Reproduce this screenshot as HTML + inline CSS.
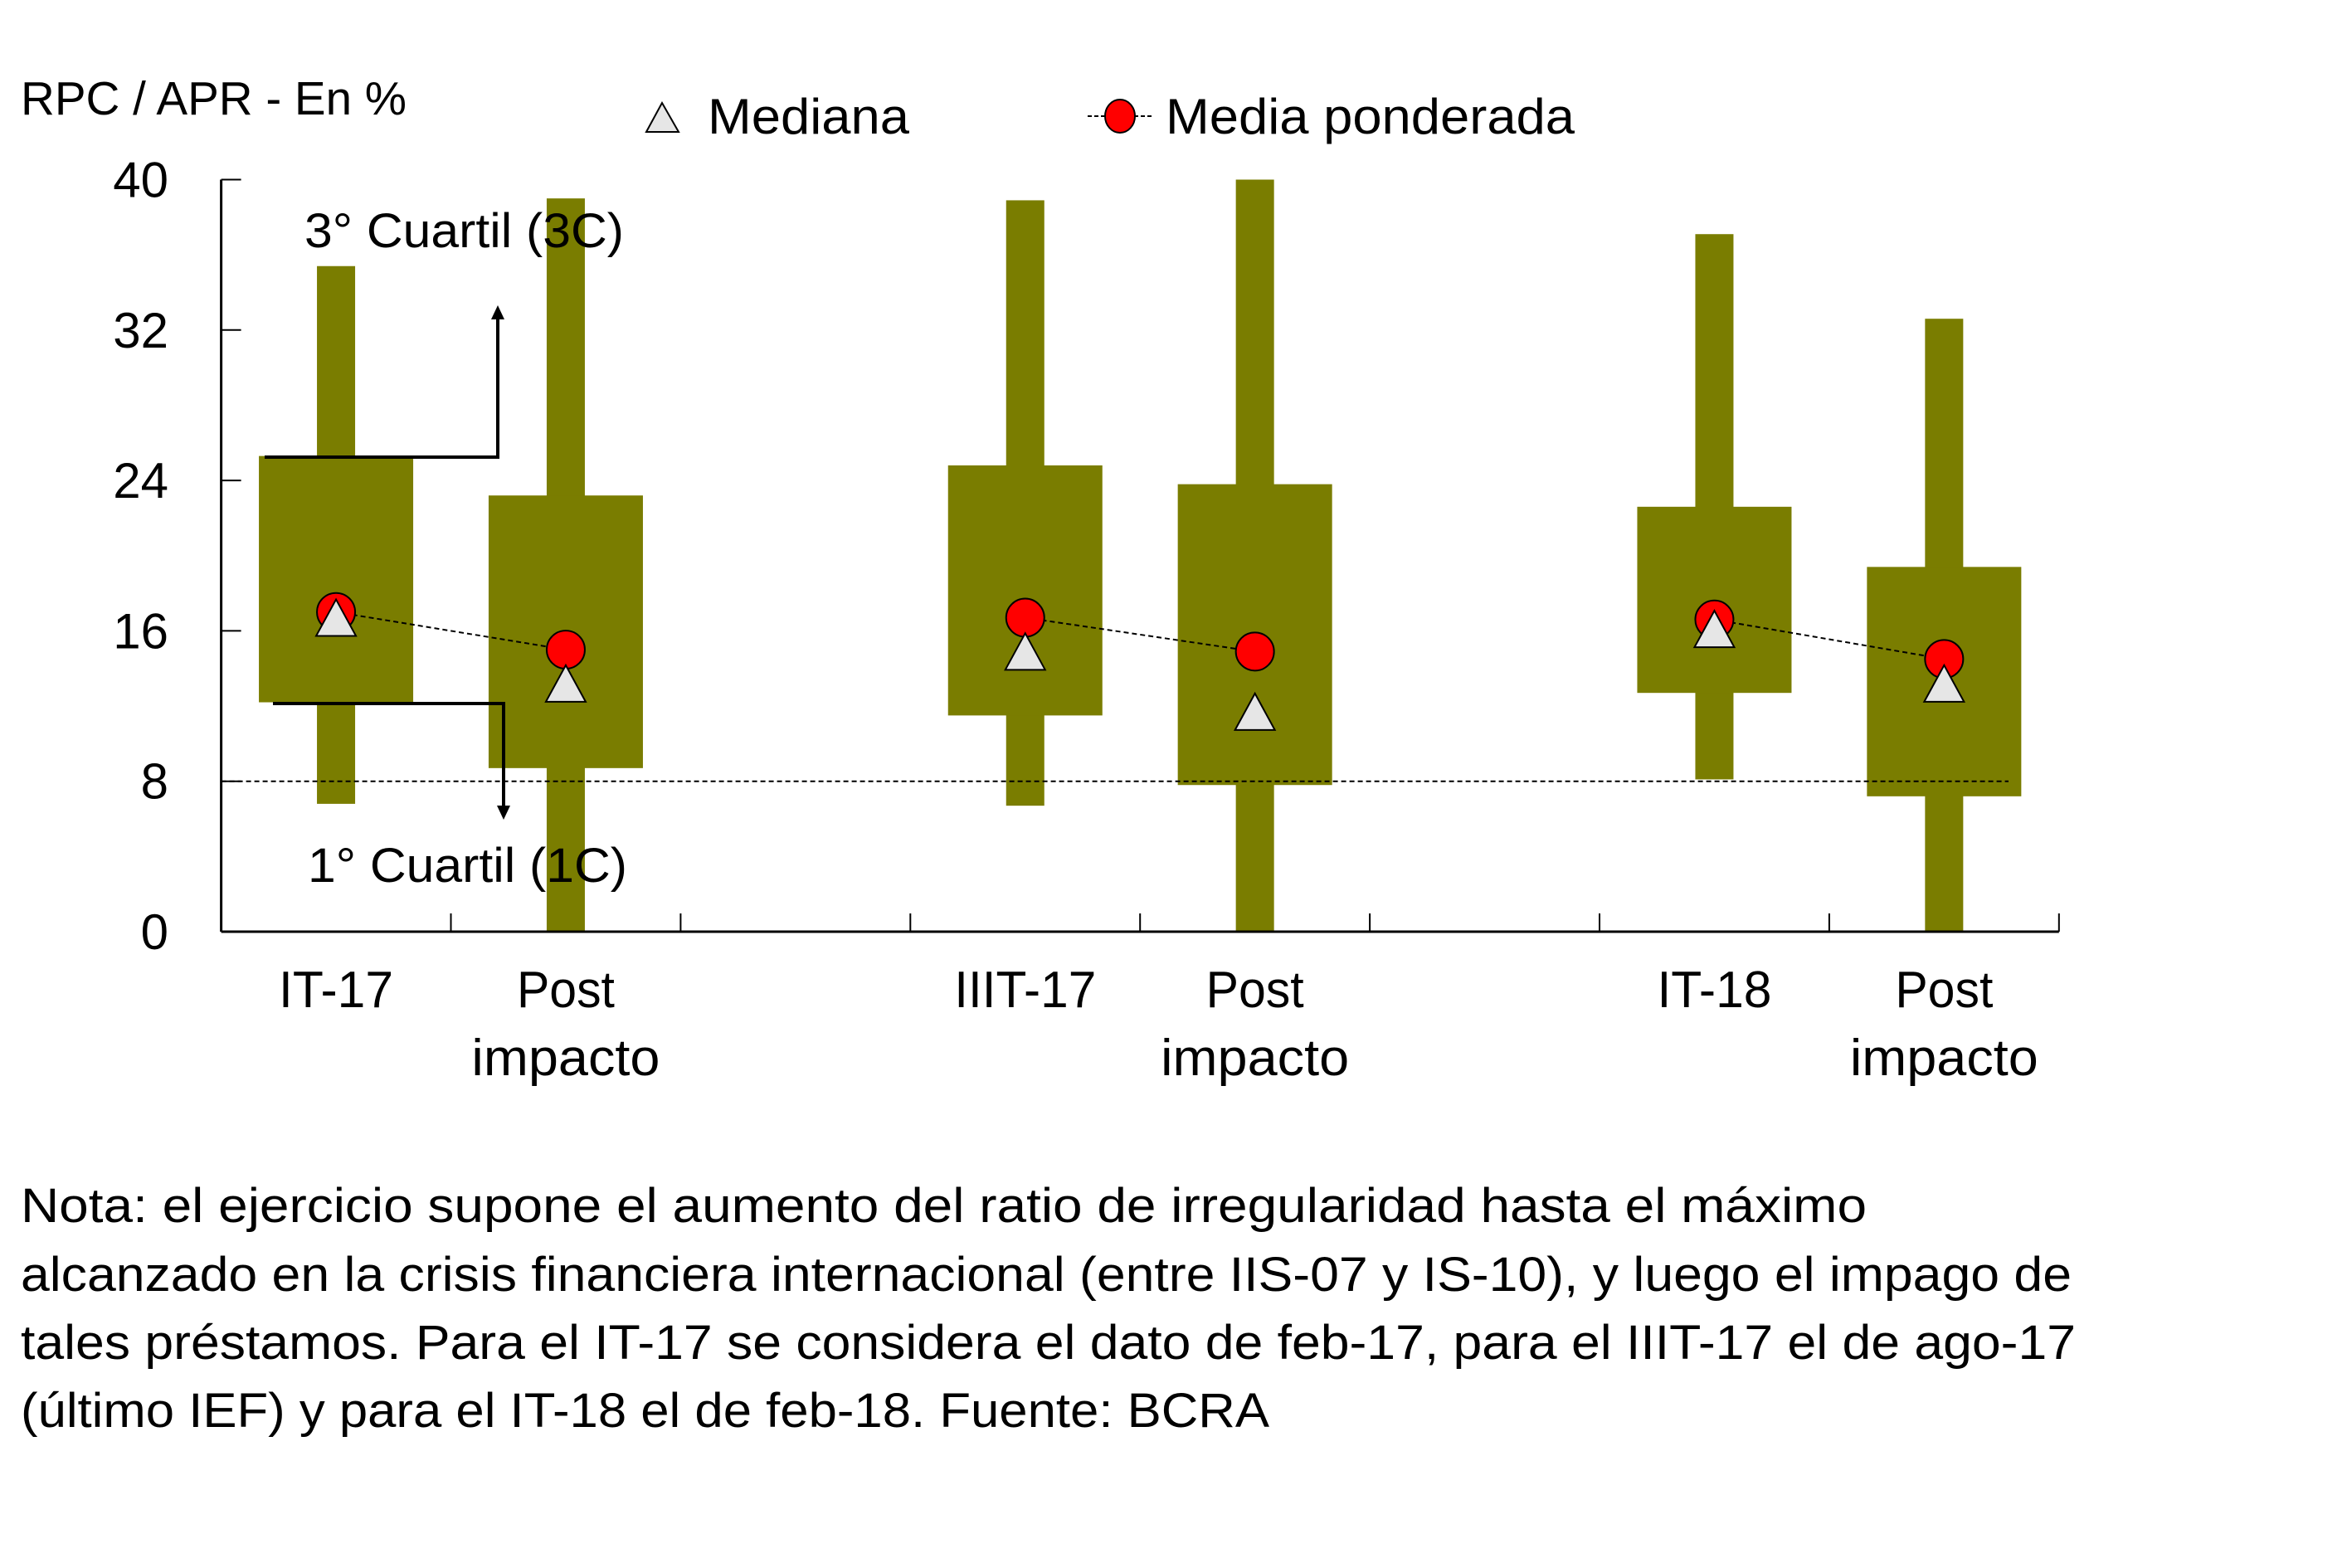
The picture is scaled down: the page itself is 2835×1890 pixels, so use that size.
<!DOCTYPE html>
<html><head><meta charset="utf-8"><style>
html,body{margin:0;padding:0;background:#fff}
svg{display:block}
text{font-family:"Liberation Sans",sans-serif;fill:#000}
</style></head><body>
<svg id="chart" width="2835" height="1890" viewBox="0 0 2835 1890" xmlns="http://www.w3.org/2000/svg">
<g id="plot"></g>
<text x="25" y="138" font-size="57" textLength="465" lengthAdjust="spacingAndGlyphs">RPC / APR - En %</text>
<g>
  <polygon points="779,159 798,124 818,159" fill="#e6e6e6" stroke="#000" stroke-width="2"/>
  <text x="853" y="161" font-size="60" textLength="243" lengthAdjust="spacingAndGlyphs">Mediana</text>
  <line x1="1311" y1="140" x2="1390" y2="140" stroke="#000" stroke-width="2" stroke-dasharray="5,3"/>
  <ellipse cx="1350" cy="140" rx="18" ry="20" fill="#ff0000" stroke="#000" stroke-width="2"/>
  <text x="1405" y="161" font-size="60" textLength="493" lengthAdjust="spacingAndGlyphs">Media ponderada</text>
</g>
<g>
  <text x="367" y="298" font-size="58" textLength="385" lengthAdjust="spacingAndGlyphs">3° Cuartil (3C)</text>
  <polyline points="319,551 600,551 600,380" fill="none" stroke="#000" stroke-width="4"/>
  <polygon points="592,385 600,368 608,385" fill="#000"/>
  <polyline points="329,848 607,848 607,976" fill="none" stroke="#000" stroke-width="4"/>
  <polygon points="599,971 607,988 615,971" fill="#000"/>
  <text x="371" y="1063" font-size="58" textLength="385" lengthAdjust="spacingAndGlyphs">1° Cuartil (1C)</text>
</g>
<g font-size="58">
  <text x="25" y="1473" textLength="2225" lengthAdjust="spacingAndGlyphs">Nota: el ejercicio supone el aumento del ratio de irregularidad hasta el máximo</text>
  <text x="25" y="1556" textLength="2472" lengthAdjust="spacingAndGlyphs">alcanzado en la crisis financiera internacional (entre IIS-07 y IS-10), y luego el impago de</text>
  <text x="25" y="1638" textLength="2477" lengthAdjust="spacingAndGlyphs">tales préstamos. Para el IT-17 se considera el dato de feb-17, para el IIIT-17 el de ago-17</text>
  <text x="25" y="1720" textLength="1505" lengthAdjust="spacingAndGlyphs">(último IEF) y para el IT-18 el de feb-18. Fuente: BCRA</text>
</g>
</svg>
<script>
const categories = ["IT-17", "Post impacto", "", "IIIT-17", "Post impacto", "", "IT-18", "Post impacto"];
const whiskerHigh = [35.4, 39.0, null, 38.9, 40.0, null, 37.1, 32.6];
const q3 = [25.3, 23.2, null, 24.8, 23.8, null, 22.6, 19.4];
const q1 = [12.2, 8.7, null, 11.5, 7.8, null, 12.7, 7.2];
const whiskerLow = [6.8, 0, null, 6.7, 0, null, 8.1, 0];
const means = [17.0, 15.0, null, 16.7, 14.9, null, 16.6, 14.5];
const medians = [16.7, 13.2, null, 14.9, 11.7, null, 16.1, 13.2];
const yTicks = [0, 8, 16, 24, 32, 40];
const refLine = 8;

const NS = "http://www.w3.org/2000/svg";
const X0 = 266.6, SLOT = 276.9, Y0 = 1123, Y40 = 216.5, YMAX = 40;
function yS(v){ return Y0 - (Y0 - Y40) * v / YMAX; }
function xC(i){ return X0 + SLOT * (i + 0.5); }
const plot = document.getElementById("plot");
function mk(tag, attrs){ const e = document.createElementNS(NS, tag); for (const k in attrs) e.setAttribute(k, attrs[k]); plot.appendChild(e); return e; }
const OLIVE = "#7a7d00";
const labelWidths = {"IT-17": 138, "IIIT-17": 171, "IT-18": 138, "Post": 118, "impacto": 227};

categories.forEach((c, i) => {
  if (whiskerHigh[i] === null) return;
  const cx = xC(i);
  const w = mk("rect", {x: cx - 23, y: yS(whiskerHigh[i]), width: 46, height: yS(whiskerLow[i]) - yS(whiskerHigh[i]), fill: OLIVE});
  
  
  const b = mk("rect", {x: cx - 93, y: yS(q3[i]), width: 186, height: yS(q1[i]) - yS(q3[i]), fill: OLIVE});
  
  
});
let rl = mk("line", {x1: X0, y1: yS(refLine), x2: 2421, y2: yS(refLine), stroke: "#000", "stroke-width": 2, "stroke-dasharray": "6,4"});



for (let i = 0; i < categories.length - 1; i++) {
  if (means[i] !== null && means[i+1] !== null) {
    const l = mk("line", {x1: xC(i), y1: yS(means[i]), x2: xC(i+1), y2: yS(means[i+1]), stroke: "#000", "stroke-width": 2, "stroke-dasharray": "6,4"});
    
    
  }
}
categories.forEach((c, i) => {
  if (means[i] === null) return;
  const cx = xC(i);
  const m = mk("ellipse", {cx: cx, cy: yS(means[i]), rx: 23, ry: 23, fill: "#ff0000", stroke: "#000", "stroke-width": 2});
  
  
  const my = yS(medians[i]);
  const t = mk("polygon", {points: (cx-24)+","+(my+22)+" "+cx+","+(my-22)+" "+(cx+24)+","+(my+22), fill: "#e6e6e6", stroke: "#000", "stroke-width": 2});
  
  
});

const ya = mk("line", {x1: X0, y1: Y40, x2: X0, y2: Y0, stroke: "#000", "stroke-width": 3});


const xa = mk("line", {x1: X0, y1: Y0, x2: X0 + SLOT * 8, y2: Y0, stroke: "#000", "stroke-width": 3});


yTicks.forEach(v => {
  const tk = mk("line", {x1: X0, y1: yS(v), x2: X0 + 24, y2: yS(v), stroke: "#000", "stroke-width": 2});
  
  
  const tl = mk("text", {x: 203, y: yS(v) + 21, "font-size": 60, "text-anchor": "end"});
  tl.textContent = v;
  
  
});
for (let k = 1; k <= 8; k++) {
  const tk = mk("line", {x1: X0 + SLOT * k, y1: Y0, x2: X0 + SLOT * k, y2: Y0 - 22, stroke: "#000", "stroke-width": 2});
  
  
}
categories.forEach((c, i) => {
  if (!c) return;
  const cx = xC(i);
  const parts = c === "Post impacto" ? ["Post", "impacto"] : [c];
  parts.forEach((p, j) => {
    const lw = labelWidths[p];
    const t = mk("text", {x: cx - lw / 2, y: 1214 + j * 82, "font-size": 62, textLength: lw, lengthAdjust: "spacingAndGlyphs"});
    t.textContent = p;
    
    
  });
});
</script>
</body></html>
